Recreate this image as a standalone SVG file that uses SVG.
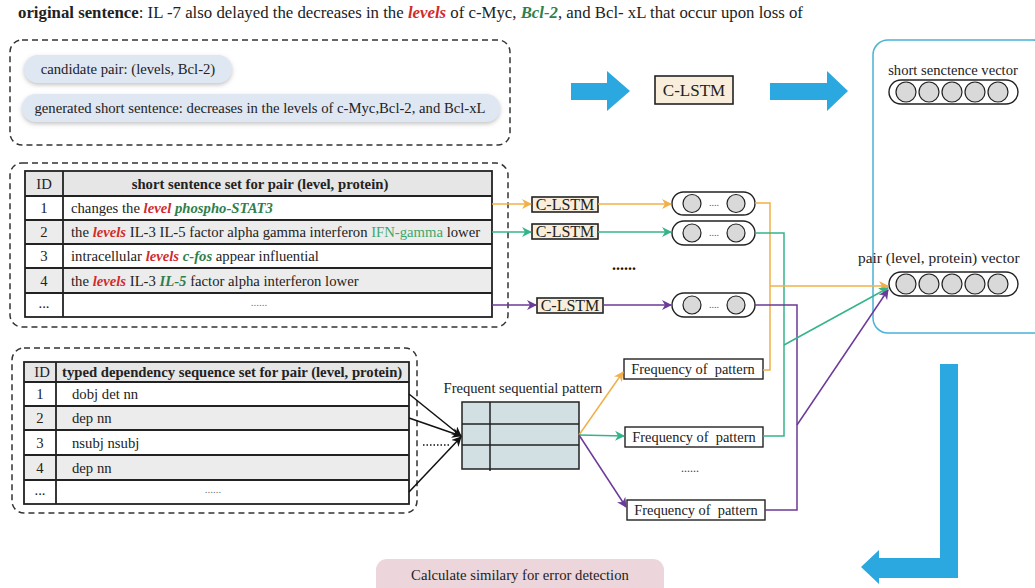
<svg xmlns="http://www.w3.org/2000/svg" width="1035" height="588" viewBox="0 0 1035 588">
<defs>
<style>
text{font-family:"Liberation Serif","Times New Roman",serif;fill:#222;}
.t13{font-size:14.7px;}
.t14{font-size:14.6px;}
.fq{font-size:14.4px;}
.cs{font-size:16px;}
.b{font-weight:bold;}
.red{fill:#d12b2b;font-weight:bold;font-style:italic;}
.grn{fill:#2f7f4c;font-weight:bold;font-style:italic;}
.grnl{fill:#3fa86a;}
.dash{fill:none;stroke:#333;stroke-width:1.5;stroke-dasharray:6 4;}
.tb{stroke:#222;stroke-width:1.8;}
.cl{fill:#f8eedb;stroke:#222;stroke-width:1.6;}
.vp{fill:#fff;stroke:#222;stroke-width:1.4;}
.cir{fill:#d9d9d9;stroke:#222;stroke-width:1.2;}
.blue{fill:#2ba8df;}
.or{fill:none;stroke:#f1b04a;stroke-width:1.5;}
.gr{fill:none;stroke:#34b48a;stroke-width:1.5;}
.pu{fill:none;stroke:#6c3a98;stroke-width:1.5;}
.bk{fill:none;stroke:#111;stroke-width:1.5;}
.fb{fill:#fff;stroke:#222;stroke-width:1.4;}
</style>
<filter id="sh" x="-10%" y="-30%" width="120%" height="170%">
<feDropShadow dx="0" dy="2" stdDeviation="2" flood-color="#888" flood-opacity="0.5"/>
</filter>
<marker id="mo" markerWidth="10" markerHeight="10" refX="9" refY="5" orient="auto" markerUnits="userSpaceOnUse"><path d="M0,0 L10,5 L0,10 L3,5 z" fill="#f1b04a"/></marker>
<marker id="mg" markerWidth="10" markerHeight="10" refX="9" refY="5" orient="auto" markerUnits="userSpaceOnUse"><path d="M0,0 L10,5 L0,10 L3,5 z" fill="#34b48a"/></marker>
<marker id="mp" markerWidth="10" markerHeight="10" refX="9" refY="5" orient="auto" markerUnits="userSpaceOnUse"><path d="M0,0 L10,5 L0,10 L3,5 z" fill="#6c3a98"/></marker>
<marker id="mk" markerWidth="10" markerHeight="10" refX="9" refY="5" orient="auto" markerUnits="userSpaceOnUse"><path d="M0,0 L10,5 L0,10 L3,5 z" fill="#111"/></marker>
</defs>
<rect width="1035" height="588" fill="#fff"/>

<g id="header">
<text x="18" y="18" style="font-size:16.8px"><tspan class="b">original sentence</tspan>: IL -7 also delayed the decreases in the <tspan class="red">levels</tspan> of c-Myc, <tspan class="grn">Bcl-2</tspan>, and Bcl- xL that occur upon loss of</text>
</g>

<g id="candidate-box">
<rect class="dash" x="10" y="40" width="500" height="105" rx="12"/>
<rect x="24" y="55" width="208" height="28" rx="14" fill="#dfe7f3" filter="url(#sh)"/>
<text class="t13" x="128" y="74" text-anchor="middle">candidate pair: (levels, Bcl-2)</text>
<rect x="22" y="94" width="478" height="28" rx="14" fill="#dfe7f3" filter="url(#sh)"/>
<text class="t13" x="260" y="113" text-anchor="middle">generated short sentence: decreases in the levels of c-Myc,Bcl-2, and Bcl-xL</text>
</g>

<g id="blue-arrow-1"><polygon class="blue" points="571,83 607,83 607,71 630,91 607,111 607,100 571,100"/></g>
<g id="clstm-top">
<rect class="cl" x="655" y="76" width="78" height="28"/>
<text x="694" y="96" text-anchor="middle" style="font-size:17px">C-LSTM</text>
</g>
<g id="blue-arrow-2"><polygon class="blue" points="770,83 827,83 827,71 848,91 827,111 827,100 770,100"/></g>

<g id="vector-box">
<rect x="873" y="40" width="175" height="293" rx="15" fill="none" stroke="#4ab3d6" stroke-width="1.5"/>
<text class="t14" x="953" y="75" text-anchor="middle">short senctence vector</text>
<rect class="vp" x="889" y="80" width="129" height="24" rx="12"/>
<circle class="cir" cx="906" cy="92" r="10"/><circle class="cir" cx="929" cy="92" r="10"/><circle class="cir" cx="952" cy="92" r="10"/><circle class="cir" cx="975" cy="92" r="10"/><circle class="cir" cx="998" cy="92" r="10"/>
<text x="858" y="263" style="font-size:15.4px">pair (level, protein) vector</text>
<rect class="vp" x="889" y="272" width="129" height="24" rx="12"/>
<circle class="cir" cx="906" cy="284" r="10"/><circle class="cir" cx="929" cy="284" r="10"/><circle class="cir" cx="952" cy="284" r="10"/><circle class="cir" cx="975" cy="284" r="10"/><circle class="cir" cx="998" cy="284" r="10"/>
</g>

<g id="sentence-table">
<rect class="dash" x="10" y="163" width="498" height="164" rx="12"/>
<rect x="25" y="171" width="467" height="25" fill="#e6e6e6"/>
<rect x="25" y="220" width="467" height="24" fill="#ececec"/>
<rect x="25" y="268" width="467" height="25" fill="#ececec"/>
<rect x="25" y="171" width="467" height="146" fill="none" class="tb"/>
<line class="tb" x1="25" y1="196" x2="492" y2="196"/>
<line class="tb" x1="25" y1="220" x2="492" y2="220"/>
<line class="tb" x1="25" y1="244" x2="492" y2="244"/>
<line class="tb" x1="25" y1="268" x2="492" y2="268"/>
<line class="tb" x1="25" y1="293" x2="492" y2="293"/>
<line class="tb" x1="63" y1="171" x2="63" y2="317"/>
<text class="t13" x="44" y="189" text-anchor="middle">ID</text>
<text class="t13 b" x="260" y="189" text-anchor="middle">short sentence set for pair (level, protein)</text>
<text class="t13" x="44" y="213" text-anchor="middle">1</text>
<text class="t13" x="44" y="237" text-anchor="middle">2</text>
<text class="t13" x="44" y="261" text-anchor="middle">3</text>
<text class="t13" x="44" y="286" text-anchor="middle">4</text>
<text class="t13" x="44" y="308" text-anchor="middle" fill="#666">...</text>
<text class="t13" x="71" y="213">changes the <tspan class="red">level</tspan> <tspan class="grn">phospho-STAT3</tspan></text>
<text class="t13" x="71" y="237">the <tspan class="red">levels</tspan> IL-3 IL-5 factor alpha gamma interferon <tspan class="grnl">IFN-gamma</tspan> lower</text>
<text class="t13" x="71" y="261">intracellular <tspan class="red">levels</tspan> <tspan class="grn">c-fos</tspan> appear influential</text>
<text class="t13" x="71" y="286">the <tspan class="red">levels</tspan> IL-3 <tspan class="grn">IL-5</tspan> factor alpha interferon lower</text>
<text x="259" y="306" text-anchor="middle" style="font-size:11px;fill:#777">......</text>
</g>

<g id="dependency-table">
<rect class="dash" x="12" y="348" width="405" height="165" rx="12"/>
<rect x="24" y="362" width="385" height="20" fill="#e6e6e6"/>
<rect x="24" y="406" width="385" height="24" fill="#ececec"/>
<rect x="24" y="455" width="385" height="25" fill="#ececec"/>
<rect x="24" y="362" width="385" height="142" fill="none" class="tb"/>
<line class="tb" x1="24" y1="382" x2="409" y2="382"/>
<line class="tb" x1="24" y1="406" x2="409" y2="406"/>
<line class="tb" x1="24" y1="430" x2="409" y2="430"/>
<line class="tb" x1="24" y1="455" x2="409" y2="455"/>
<line class="tb" x1="24" y1="480" x2="409" y2="480"/>
<line class="tb" x1="56" y1="362" x2="56" y2="504"/>
<text class="t13" x="42" y="377" text-anchor="middle">ID</text>
<text class="t13 b" x="62" y="377">typed dependency sequence set for pair (level, protein)</text>
<text class="t13" x="40" y="399" text-anchor="middle">1</text>
<text class="t13" x="40" y="423" text-anchor="middle">2</text>
<text class="t13" x="40" y="448" text-anchor="middle">3</text>
<text class="t13" x="40" y="473" text-anchor="middle">4</text>
<text class="t13" x="40" y="495" text-anchor="middle" fill="#666">...</text>
<text class="t13" x="72" y="399">dobj det nn</text>
<text class="t13" x="72" y="423">dep nn</text>
<text class="t13" x="72" y="448">nsubj nsubj</text>
<text class="t13" x="72" y="473">dep nn</text>
<text x="213" y="493" text-anchor="middle" style="font-size:11px;fill:#777">......</text>
</g>

<g id="pattern-table">
<text class="t14" x="523" y="393" text-anchor="middle">Frequent sequential pattern</text>
<rect x="462" y="402" width="117" height="67" fill="#d3e0e3" stroke="#222" stroke-width="1.5"/>
<line class="tb" x1="462" y1="424" x2="579" y2="424" style="stroke-width:1.5"/>
<line class="tb" x1="462" y1="445" x2="579" y2="445" style="stroke-width:1.5"/>
<line class="tb" x1="490" y1="402" x2="490" y2="471" style="stroke-width:1.5"/>
</g>

<g id="clstm-1"><rect class="cl" x="532" y="197" width="66" height="15"/><text class="cs" x="565" y="210" text-anchor="middle">C-LSTM</text></g>
<g id="clstm-2"><rect class="cl" x="532" y="224" width="66" height="15"/><text class="cs" x="565" y="237" text-anchor="middle">C-LSTM</text></g>
<g id="clstm-3"><rect class="cl" x="537" y="298" width="66" height="15"/><text class="cs" x="570" y="311" text-anchor="middle">C-LSTM</text></g>

<g id="vec-1"><rect class="vp" x="672" y="192" width="83" height="23" rx="11.5"/><circle class="cir" cx="692" cy="203.5" r="9"/><circle class="cir" cx="736" cy="203.5" r="9"/><text x="714" y="206" text-anchor="middle" style="font-size:10px;fill:#555">....</text></g>
<g id="vec-2"><rect class="vp" x="672" y="221" width="83" height="24" rx="12"/><circle class="cir" cx="692" cy="233" r="9"/><circle class="cir" cx="736" cy="233" r="9"/><text x="714" y="235.5" text-anchor="middle" style="font-size:10px;fill:#555">....</text></g>
<g id="vec-3"><rect class="vp" x="672" y="293" width="83" height="24" rx="12"/><circle class="cir" cx="692" cy="305" r="9"/><circle class="cir" cx="736" cy="305" r="9"/><text x="714" y="307.5" text-anchor="middle" style="font-size:10px;fill:#555">....</text></g>
<text x="624" y="270" text-anchor="middle" style="font-size:16px;font-weight:bold;fill:#111">......</text>

<g id="freq-1"><rect class="fb" x="624" y="359" width="139" height="20"/><text class="fq" x="693" y="374" text-anchor="middle" xml:space="preserve">Frequency of  pattern</text></g>
<g id="freq-2"><rect class="fb" x="625" y="427" width="138" height="20"/><text class="fq" x="694" y="442" text-anchor="middle" xml:space="preserve">Frequency of  pattern</text></g>
<g id="freq-3"><rect class="fb" x="627" y="500" width="138" height="20"/><text class="fq" x="696" y="515" text-anchor="middle" xml:space="preserve">Frequency of  pattern</text></g>
<text x="690" y="472" text-anchor="middle" style="font-size:12px;fill:#444">......</text>

<g id="connectors">
<line class="or" x1="492" y1="204" x2="531" y2="204" marker-end="url(#mo)"/>
<line class="gr" x1="492" y1="232" x2="531" y2="232" marker-end="url(#mg)"/>
<line class="pu" x1="492" y1="305" x2="536" y2="305" marker-end="url(#mp)"/>
<line class="or" x1="598" y1="204" x2="671" y2="204" marker-end="url(#mo)"/>
<line class="gr" x1="598" y1="232" x2="671" y2="232" marker-end="url(#mg)"/>
<line class="pu" x1="603" y1="305" x2="671" y2="305" marker-end="url(#mp)"/>
<polyline class="or" points="755,203 770,203 770,370 763,370"/>
<polyline class="gr" points="755,233 784,233 784,436 763,436"/>
<polyline class="pu" points="755,305 797,305 797,510 765,510"/>
<line class="or" x1="770" y1="286" x2="888" y2="286" marker-end="url(#mo)"/>
<line class="gr" x1="784" y1="345" x2="888" y2="288" marker-end="url(#mg)"/>
<line class="pu" x1="797" y1="425" x2="888" y2="290" marker-end="url(#mp)"/>
<line class="or" x1="579" y1="435" x2="623" y2="372" marker-end="url(#mo)"/>
<line class="gr" x1="579" y1="435" x2="624" y2="436" marker-end="url(#mg)"/>
<line class="pu" x1="579" y1="435" x2="626" y2="507" marker-end="url(#mp)"/>
<line class="bk" x1="409" y1="394" x2="461" y2="436" marker-end="url(#mk)"/>
<line class="bk" x1="409" y1="418" x2="461" y2="436" marker-end="url(#mk)"/>
<line class="bk" x1="409" y1="492" x2="461" y2="437" marker-end="url(#mk)"/>
<line x1="423" y1="445" x2="450" y2="445" stroke="#111" stroke-width="1.3" stroke-dasharray="1.5 2"/>
</g>

<g id="blue-arrow-3"><polygon class="blue" points="940,364 958,364 958,578 879,578 879,584 861,567 879,550 879,558 940,558"/></g>

<g id="result">
<rect x="376" y="559" width="288" height="40" rx="11" fill="#ecd6db"/>
<text class="t13" x="520" y="580" text-anchor="middle">Calculate similary for error detection</text>
</g>
</svg>
